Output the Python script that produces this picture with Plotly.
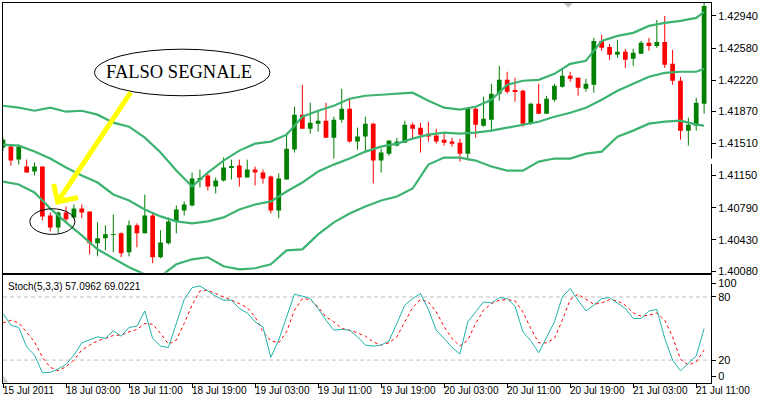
import plotly.graph_objects as go

# ---------------- data ----------------
opens = [1.41464, 1.41475, 1.41329, 1.41251, 1.41195, 1.41251, 1.40703, 1.40569, 1.40737, 1.40681,
         1.40781, 1.40748, 1.40390, 1.40446, 1.40485, 1.40502, 1.40290, 1.40592, 1.40502, 1.40703,
         1.40234, 1.40390, 1.40636, 1.40759, 1.40815, 1.41111, 1.41150, 1.41027, 1.41094, 1.41245,
         1.41262, 1.41128, 1.41217, 1.41184, 1.41139, 1.40759, 1.41106, 1.41441, 1.41833, 1.41676,
         1.41732, 1.41766, 1.41575, 1.41777, 1.41900, 1.41531, 1.41587, 1.41732, 1.41318, 1.41396,
         1.41486, 1.41519, 1.41721, 1.41687, 1.41620, 1.41598, 1.41553, 1.41531, 1.41519, 1.41396,
         1.41900, 1.41710, 1.41777, 1.42068, 1.42224, 1.42107, 1.42101, 1.41732, 1.41956, 1.41844,
         1.42000, 1.42146, 1.42269, 1.42247, 1.42123, 1.42168, 1.42660, 1.42593, 1.42504, 1.42537,
         1.42459, 1.42515, 1.42638, 1.42604, 1.42649, 1.42403, 1.42213, 1.41654, 1.41710, 1.41956]
highs = [1.41575, 1.41486, 1.41497, 1.41329, 1.41296, 1.41251, 1.40737, 1.40748, 1.40804, 1.40826,
         1.40826, 1.40748, 1.40625, 1.40592, 1.40714, 1.40513, 1.40647, 1.40614, 1.40938, 1.40737,
         1.40536, 1.40681, 1.40815, 1.40860, 1.41184, 1.41217, 1.41173, 1.41128, 1.41352, 1.41329,
         1.41329, 1.41329, 1.41251, 1.41217, 1.41150, 1.41173, 1.41631, 1.41922, 1.42168, 1.41967,
         1.41877, 1.41967, 1.41810, 1.42123, 1.42012, 1.41687, 1.41810, 1.41743, 1.41452, 1.41542,
         1.41575, 1.41766, 1.41743, 1.41743, 1.41754, 1.41676, 1.41620, 1.41575, 1.41564, 1.41911,
         1.41911, 1.42034, 1.42179, 1.42381, 1.42314, 1.42247, 1.42112, 1.41967, 1.42179, 1.42045,
         1.42179, 1.42347, 1.42314, 1.42247, 1.42235, 1.42694, 1.42727, 1.42627, 1.42672, 1.42571,
         1.42571, 1.42660, 1.42694, 1.42895, 1.42940, 1.42560, 1.42258, 1.41799, 1.42023, 1.43085]
lows = [1.41430, 1.41262, 1.41273, 1.41184, 1.41150, 1.40647, 1.40525, 1.40502, 1.40625, 1.40670,
        1.40670, 1.40267, 1.40245, 1.40312, 1.40290, 1.40234, 1.40245, 1.40345, 1.40502, 1.40167,
        1.40223, 1.40379, 1.40502, 1.40703, 1.40804, 1.41016, 1.40983, 1.40949, 1.41083, 1.41106,
        1.41027, 1.41128, 1.41039, 1.41061, 1.40725, 1.40670, 1.41106, 1.41408, 1.41676, 1.41620,
        1.41643, 1.41575, 1.41341, 1.41743, 1.41519, 1.41441, 1.41408, 1.41061, 1.41184, 1.41374,
        1.41475, 1.41519, 1.41553, 1.41408, 1.41531, 1.41508, 1.41486, 1.41475, 1.41307, 1.41318,
        1.41575, 1.41698, 1.41643, 1.41989, 1.42068, 1.41978, 1.41698, 1.41721, 1.41844, 1.41844,
        1.41978, 1.42135, 1.42202, 1.42045, 1.42090, 1.42079, 1.42549, 1.42448, 1.42470, 1.42358,
        1.42381, 1.42515, 1.42549, 1.42582, 1.42358, 1.42168, 1.41553, 1.41486, 1.41654, 1.41844]
closes = [1.41553, 1.41318, 1.41475, 1.41184, 1.41251, 1.40692, 1.40569, 1.40737, 1.40659, 1.40781,
          1.40737, 1.40390, 1.40446, 1.40491, 1.40491, 1.40279, 1.40592, 1.40502, 1.40703, 1.40234,
          1.40401, 1.40636, 1.40770, 1.40826, 1.41117, 1.41117, 1.41027, 1.41094, 1.41240, 1.41251,
          1.41128, 1.41217, 1.41184, 1.41117, 1.40759, 1.41117, 1.41452, 1.41833, 1.41676, 1.41743,
          1.41766, 1.41575, 1.41777, 1.41900, 1.41531, 1.41587, 1.41732, 1.41318, 1.41408, 1.41542,
          1.41531, 1.41721, 1.41676, 1.41609, 1.41587, 1.41531, 1.41519, 1.41508, 1.41396, 1.41900,
          1.41721, 1.41788, 1.42068, 1.42224, 1.42090, 1.42095, 1.41732, 1.41956, 1.41844, 1.42012,
          1.42157, 1.42269, 1.42235, 1.42135, 1.42179, 1.42660, 1.42582, 1.42504, 1.42537, 1.42448,
          1.42526, 1.42638, 1.42604, 1.42649, 1.42392, 1.42213, 1.41654, 1.41721, 1.41967, 1.43052]

# Bollinger bands, read at every second bar (and the last one)
band_idx = list(range(0, 89, 2)) + [89]
bb_upper = [1.41933, 1.41911, 1.41877, 1.41911, 1.41866, 1.41877, 1.41833, 1.41743, 1.41698, 1.41575,
            1.41408, 1.41206, 1.41027, 1.41184, 1.41318, 1.41430, 1.41508, 1.41531, 1.41609, 1.41810,
            1.41877, 1.41933, 1.42012, 1.42045, 1.42056, 1.42068, 1.42079, 1.41989, 1.41911, 1.41889,
            1.41922, 1.42000, 1.42168, 1.42213, 1.42224, 1.42291, 1.42403, 1.42437, 1.42660, 1.42716,
            1.42750, 1.42828, 1.42862, 1.42884, 1.42918, 1.42985]
bb_middle = [1.41497, 1.41486, 1.41419, 1.41341, 1.41240, 1.41150, 1.41072, 1.40938, 1.40871, 1.40770,
             1.40692, 1.40636, 1.40614, 1.40636, 1.40681, 1.40770, 1.40826, 1.40860, 1.40971, 1.41072,
             1.41195, 1.41273, 1.41341, 1.41419, 1.41475, 1.41508, 1.41564, 1.41609, 1.41631, 1.41620,
             1.41631, 1.41654, 1.41687, 1.41721, 1.41754, 1.41810, 1.41855, 1.41911, 1.42000, 1.42101,
             1.42179, 1.42258, 1.42302, 1.42314, 1.42314, 1.42347]
bb_lower = [1.41083, 1.41050, 1.40960, 1.40781, 1.40625, 1.40480, 1.40323, 1.40223, 1.40122, 1.40043,
            1.40021, 1.40155, 1.40211, 1.40234, 1.40133, 1.40099, 1.40111, 1.40155, 1.40312, 1.40323,
            1.40491, 1.40625, 1.40725, 1.40804, 1.40871, 1.40916, 1.41005, 1.41273, 1.41352, 1.41352,
            1.41318, 1.41251, 1.41206, 1.41206, 1.41307, 1.41341, 1.41341, 1.41396, 1.41419, 1.41587,
            1.41654, 1.41732, 1.41754, 1.41766, 1.41721, 1.41710]

stoch_k = [64.3, 53.2, 51.0, 32.6, 24.7, 8.0, 8.3, 11.5, 15.9, 24.7,
           36.4, 39.0, 42.1, 40.6, 47.8, 42.7, 51.0, 52.2, 66.7, 40.6,
           33.3, 32.0, 54.8, 77.5, 88.9, 90.4, 85.7, 80.7, 76.9, 76.9,
           69.0, 64.8, 56.3, 51.6, 22.6, 39.0, 61.0, 82.6, 80.7, 78.5,
           69.0, 57.9, 48.4, 49.1, 48.4, 42.1, 34.2, 33.3, 34.2, 38.3,
           54.8, 72.1, 78.5, 83.2, 68.1, 48.4, 40.6, 32.0, 25.7, 56.3,
           65.8, 75.3, 74.3, 79.4, 78.5, 71.2, 46.8, 38.3, 26.9, 42.1,
           56.3, 80.0, 88.0, 76.9, 66.7, 72.1, 78.5, 79.4, 74.3, 69.0,
           59.5, 59.5, 66.7, 68.1, 40.6, 20.0, 9.9, 16.9, 23.8, 50.0]
stoch_d = [55.4, 57.9, 55.4, 46.8, 37.3, 22.6, 13.1, 9.9, 13.7, 20.0,
           29.5, 34.2, 38.3, 40.6, 43.4, 43.7, 46.8, 49.1, 54.8, 54.1,
           45.3, 35.2, 39.0, 54.8, 72.1, 85.7, 86.4, 83.2, 80.0, 77.5,
           73.7, 69.9, 61.0, 46.8, 38.3, 36.4, 46.8, 67.4, 78.5, 77.5,
           70.5, 61.0, 56.3, 50.0, 48.4, 45.9, 42.7, 37.3, 34.2, 36.4,
           42.1, 56.3, 69.9, 77.5, 75.3, 65.8, 51.6, 40.6, 33.3, 39.0,
           54.8, 67.4, 73.7, 76.9, 77.5, 76.2, 65.8, 50.0, 36.4, 36.4,
           40.6, 57.9, 77.5, 82.6, 77.5, 73.1, 74.3, 77.5, 76.2, 72.1,
           64.8, 61.7, 62.7, 64.8, 57.9, 42.1, 20.7, 15.3, 18.4, 29.5]

price_ticks = [1.42940, 1.42580, 1.42220, 1.41870, 1.41510, 1.41150, 1.40790, 1.40430, 1.40080]
time_tick_idx = [0, 8, 16, 24, 32, 40, 48, 56, 64, 72, 80, 88]
time_tick_labels = ["15 Jul 2011", "18 Jul 03:00", "18 Jul 11:00", "18 Jul 19:00",
                    "19 Jul 03:00", "19 Jul 11:00", "19 Jul 19:00", "20 Jul 03:00",
                    "20 Jul 11:00", "20 Jul 19:00", "21 Jul 03:00", "21 Jul 11:00"]
stoch_label = "Stoch(5,3,3) 57.0962 69.0221"
callout = "FALSO SEGNALE"

# ---------------- styling ----------------
BULL = "#008000"
BEAR = "#FF0000"
BAND = "#3CB371"
KCOL = "#20B2AA"
DCOL = "#FF0000"
FONT = "Liberation Sans Narrow, Liberation Sans, Arial Narrow, sans-serif"

W, H = 760, 396
ML, MR, MT, MB = 2, 39, 2, 13
PW, PH = W - ML - MR, H - MT - MB


def PX(x):
    return (x - ML) / PW


def PY(y):
    return (H - MB - y) / PH


n = len(opens)
idx = list(range(n))
colors = [BULL if c >= o else BEAR for o, c in zip(opens, closes)]
bases = [min(o, c) for o, c in zip(opens, closes)]
heights = [max(abs(c - o), 0.00009) for o, c in zip(opens, closes)]

fig = go.Figure()

# candle bodies
fig.add_trace(go.Bar(x=idx, y=heights, base=bases, width=0.6,
                     marker=dict(color=colors, line=dict(width=0)),
                     xaxis="x", yaxis="y", hoverinfo="skip"))

# wicks
for col in (BULL, BEAR):
    wx, wy = [], []
    for i in idx:
        if colors[i] == col:
            wx += [i, i, None]
            wy += [lows[i], highs[i], None]
    fig.add_trace(go.Scatter(x=wx, y=wy, mode="lines", line=dict(color=col, width=1),
                             xaxis="x", yaxis="y", hoverinfo="skip"))

# bollinger bands
for band in (bb_upper, bb_middle, bb_lower):
    fig.add_trace(go.Scatter(x=band_idx, y=band, mode="lines",
                             line=dict(color=BAND, width=2.2),
                             xaxis="x", yaxis="y", hoverinfo="skip"))

# stochastic
fig.add_trace(go.Scatter(x=idx, y=stoch_d, mode="lines",
                         line=dict(color=DCOL, width=1, dash="3px,3px"),
                         xaxis="x2", yaxis="y2", hoverinfo="skip"))
fig.add_trace(go.Scatter(x=idx, y=stoch_k, mode="lines",
                         line=dict(color=KCOL, width=1),
                         xaxis="x2", yaxis="y2", hoverinfo="skip"))

xr = [0, 89.875]
main_bottom = PY(272.5)
stoch_top = PY(275)

axis_common = dict(showgrid=False, zeroline=False, showline=True, linecolor="black",
                   linewidth=1, mirror=True)

shapes = []
# stoch levels
for lv in (80, 20):
    shapes.append(dict(type="line", xref="x2 domain", yref="y2", x0=0, x1=1, y0=lv, y1=lv,
                       line=dict(color="#C0C0C0", width=1, dash="4px,3px"), layer="below"))
# big ellipse
shapes.append(dict(type="circle", xref="paper", yref="paper",
                   x0=PX(95), x1=PX(273), y0=PY(95), y1=PY(48.3),
                   line=dict(color="black", width=1), fillcolor="rgba(0,0,0,0)"))
# small ellipse around the candles
shapes.append(dict(type="circle", xref="paper", yref="paper",
                   x0=PX(29.3), x1=PX(75), y0=PY(234), y1=PY(208.3),
                   line=dict(color="black", width=1), fillcolor="rgba(0,0,0,0)"))
# yellow arrow
shapes.append(dict(type="path", xref="paper", yref="paper",
                   path=f"M {PX(131.7)},{PY(91.7)} L {PX(57.5)},{PY(201.5)}",
                   line=dict(color="#FFFF00", width=5)))
shapes.append(dict(type="path", xref="paper", yref="paper",
                   path=f"M {PX(53.5)},{PY(183.5)} L {PX(57.5)},{PY(201.5)} L {PX(78)},{PY(197)}",
                   line=dict(color="#FFFF00", width=5)))
# gray shift marker at the top
shapes.append(dict(type="path", xref="paper", yref="paper",
                   path=f"M {PX(571.5)},{PY(2)} L {PX(580.5)},{PY(2)} L {PX(576)},{PY(6.5)} Z",
                   fillcolor="#BDBDBD", line=dict(width=0)))
# gray corner mark in the stoch window
shapes.append(dict(type="path", xref="paper", yref="paper",
                   path=f"M {PX(2.5)},{PY(376)} L {PX(2.5)},{PY(382.5)} L {PX(7.5)},{PY(382.5)} Z",
                   fillcolor="#C8C8C8", line=dict(width=0)))
# gap in price axis line
shapes.append(dict(type="rect", xref="paper", yref="paper",
                   x0=PX(719.8), x1=PX(722.5), y0=PY(163.5), y1=PY(158),
                   fillcolor="white", line=dict(width=0), layer="above"))

annotations = []
annotations.append(dict(text=callout, xref="paper", yref="paper", x=PX(181), y=PY(71.5),
                        showarrow=False, xanchor="center", yanchor="middle",
                        font=dict(family="Liberation Serif, Times New Roman, serif",
                                  size=18.5, color="black")))
annotations.append(dict(text=stoch_label, xref="paper", yref="paper", x=PX(5), y=PY(279),
                        showarrow=False, xanchor="left", yanchor="top",
                        font=dict(family=FONT, size=10, color="black")))
for ti, tl in zip(time_tick_idx, time_tick_labels):
    annotations.append(dict(text=tl, xref="x2", yref="paper", x=ti, y=0,
                            showarrow=False, xanchor="left", yanchor="top",
                            xshift=-2, yshift=0,
                            font=dict(family=FONT, size=10, color="black")))

fig.update_layout(
    width=W, height=H,
    margin=dict(l=ML, r=MR, t=MT, b=MB, pad=0),
    paper_bgcolor="white", plot_bgcolor="white",
    showlegend=False,
    font=dict(family=FONT, size=11, color="black"),
    xaxis=dict(domain=[0, 1], range=xr, anchor="y", showticklabels=False, ticks="",
               **axis_common),
    yaxis=dict(domain=[main_bottom, 1], range=[1.40060, 1.43085], side="right", anchor="x",
               tickvals=price_ticks, ticktext=[f"{v:.5f}" for v in price_ticks],
               ticks="outside", ticklen=4, tickcolor="black",
               tickfont=dict(family=FONT, size=11, color="black"), **axis_common),
    xaxis2=dict(domain=[0, 1], range=xr, anchor="y2", matches="x",
                tickvals=time_tick_idx, showticklabels=False,
                ticks="outside", ticklen=4, tickcolor="black", **axis_common),
    yaxis2=dict(domain=[0, stoch_top], range=[-1.8, 100.6], side="right", anchor="x2",
                tickvals=[93.0, 80, 20, 4.8], ticktext=["100", "80", "20", "0"],
                ticks="outside", ticklen=4, tickcolor="black",
                tickfont=dict(family=FONT, size=11, color="black"), **axis_common),
    shapes=shapes,
    annotations=annotations,
)

fig.write_html("out.html", config={"displayModeBar": False},
               post_script="document.body.style.margin='0';document.body.style.overflow='hidden';")
